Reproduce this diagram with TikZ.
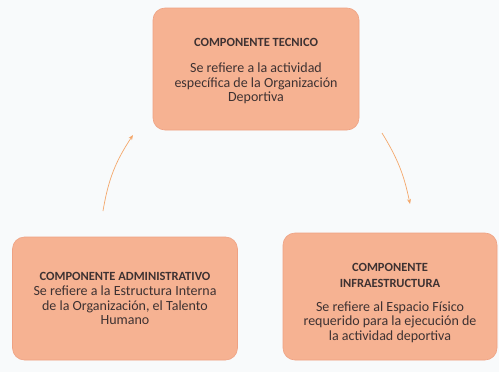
\documentclass[tikz,border=0pt]{standalone}
\usepackage{fontspec}
\setmainfont{Carlito}
\usetikzlibrary{arrows.meta}
\definecolor{boxfill}{HTML}{F6B292}
\definecolor{boxedge}{HTML}{EFA283}
\definecolor{txt}{HTML}{3E3232}
\definecolor{arr}{HTML}{F4A86C}
\definecolor{bg}{HTML}{F8FAFB}
\tikzset{
  comp/.style={rounded corners=12pt, fill=boxfill, draw=boxedge, line width=0.6pt,
    text=txt, align=center, inner sep=0pt, font=\fontsize{14}{14.6}\selectfont},
  link/.style={draw=arr, line width=0.7pt, -{Stealth[length=5pt,width=4pt]}},
}
\newcommand{\ttl}[1]{{\bfseries\fontsize{12.5}{16}\selectfont #1}}
\begin{document}
\begin{tikzpicture}[x=1pt,y=-1pt]
\useasboundingbox[fill=bg] (0,0) rectangle (499,372);
\node[comp, minimum width=206pt, minimum height=122pt] (tec) at (256,69)
  {\rule{0pt}{13pt}\ttl{COMPONENTE TECNICO}\\[11pt]Se refiere a la actividad\\específica de la Organización\\Deportiva};
\node[comp, minimum width=225pt, minimum height=123pt] (adm) at (125,298.5)
  {\ttl{COMPONENTE ADMINISTRATIVO}\\[1pt]Se refiere a la Estructura Interna\\de la Organización, el Talento\\Humano};
\node[comp, minimum width=214pt, minimum height=127pt] (inf) at (390,296.5)
  {\rule{0pt}{21pt}\ttl{COMPONENTE}\\[2pt]\ttl{INFRAESTRUCTURA}\\[9pt]Se refiere al Espacio Físico\\requerido para la ejecución de\\la actividad deportiva};
\coordinate (a1) at (103,211);
\coordinate (a2) at (133,135);
\coordinate (b1) at (382,133);
\coordinate (b2) at (410,204);
\draw[link] (a1) to[bend left=12] (a2);
\draw[link] (b1) to[bend left=10] (b2);
\end{tikzpicture}
\end{document}
